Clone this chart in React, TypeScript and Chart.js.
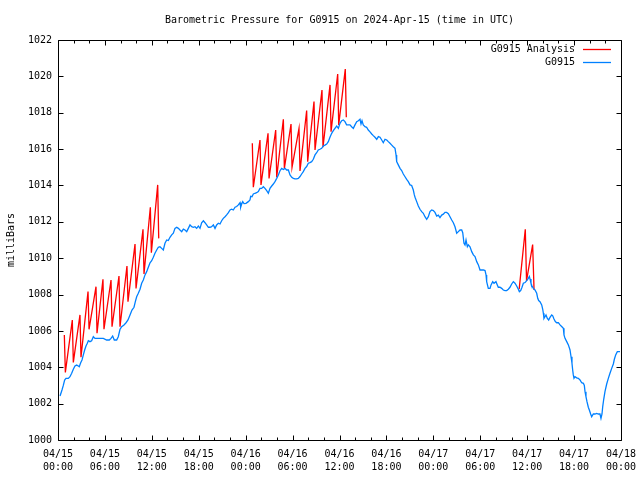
import React, { useEffect, useRef } from 'react';
import { Chart, registerables } from 'chart.js';

Chart.register(...registerables);

const TITLE = 'Barometric Pressure for G0915 on 2024-Apr-15 (time in UTC)';
const Y_LABEL = 'milliBars';
const SERIES_ANALYSIS = 'G0915 Analysis';
const SERIES_STATION = 'G0915';

// x axis: hours since 2024-04-15 00:00 UTC
const X_MIN = 0;
const X_MAX = 72;
const X_MAJOR = 6;
const X_MINOR = 2;
const xDateLabels = ['04/15', '04/15', '04/15', '04/15', '04/16', '04/16', '04/16', '04/16', '04/17', '04/17', '04/17', '04/17', '04/18'];
const xTimeLabels = ['00:00', '06:00', '12:00', '18:00', '00:00', '06:00', '12:00', '18:00', '00:00', '06:00', '12:00', '18:00', '00:00'];

const Y_MIN = 1000;
const Y_MAX = 1022;
const Y_STEP = 2;

// "G0915 Analysis" (null separates the three runs)
const analysisHours = [
  0.81, 0.94, 1.83, 1.96, 2.81, 2.94, 3.84, 3.97, 4.86, 4.99, 5.75, 5.88, 6.78, 6.91,
  7.80, 7.93, 8.82, 8.95, 9.85, 9.98, 10.87, 11.00, 11.81, 11.94, 12.75, 12.88,
  18.0,
  24.85, 24.98, 25.83, 25.96, 26.86, 26.99, 27.84, 27.97, 28.82, 28.95, 29.80, 29.93,
  30.82, 30.95, 31.80, 31.93, 32.74, 32.87, 33.76, 33.89, 34.79, 34.92, 35.77, 35.90,
  36.74, 36.87,
  48.0,
  58.98, 59.76, 59.92, 60.70, 60.88,
];
const analysisPressure = [
  1005.78, 1003.72, 1006.60, 1004.27, 1006.88, 1004.55, 1008.16, 1006.09, 1008.43, 1005.87,
  1008.84, 1006.09, 1008.80, 1006.23, 1009.02, 1006.23, 1009.57, 1007.61, 1010.78, 1008.34,
  1011.59, 1009.13, 1012.80, 1010.30, 1014.03, 1011.09,
  null,
  1016.32, 1013.90, 1016.50, 1014.03, 1016.87, 1014.39, 1017.05, 1014.45, 1017.64, 1014.94,
  1017.38, 1015.00, 1017.14, 1014.80, 1018.12, 1015.31, 1018.61, 1015.95, 1019.25, 1016.10,
  1019.53, 1016.96, 1020.13, 1017.33, 1020.40, 1017.75,
  null,
  1008.30, 1011.59, 1008.75, 1010.75, 1008.25,
];

// "G0915" station pressure
const stationHours = [
  0.26, 0.38, 0.51, 0.68, 0.85, 1.02, 1.32, 1.53, 1.75, 1.96, 2.17, 2.39, 2.60, 2.72, 2.90,
  3.07, 3.24, 3.41, 3.58, 3.75, 3.88, 4.09, 4.30, 4.52, 4.73, 5.37, 5.80, 6.22, 6.56, 6.78,
  6.99, 7.20, 7.50, 7.71, 7.93, 8.14, 8.44, 8.70, 8.95, 9.21, 9.46, 9.72, 9.89, 10.06, 10.27,
  10.49, 10.70, 10.91, 11.13, 11.34, 11.55, 11.77, 11.98, 12.19, 12.40, 12.62, 12.83,
  13.04, 13.26, 13.47, 13.68, 13.90, 14.11, 14.32, 14.54, 14.75, 14.96, 15.18, 15.39, 15.60,
  15.82, 16.03, 16.24, 16.46, 16.67, 16.88, 17.10, 17.31, 17.52, 17.73, 17.95, 18.16, 18.37,
  18.59, 18.80, 19.01, 19.23, 19.44, 19.65, 19.87, 20.08, 20.29, 20.51, 20.72, 20.93, 21.14,
  21.36, 21.57, 21.79, 22.00, 22.21, 22.42, 22.64, 22.85, 23.06, 23.28, 23.36, 23.49, 23.62,
  23.79, 24.04, 24.34, 24.55,
  24.64, 24.81, 24.98, 25.19, 25.40, 25.62, 25.83, 26.04, 26.26, 26.47, 26.69, 26.90, 27.11,
  27.33, 27.54, 27.75, 27.97, 28.18, 28.39, 28.61, 28.82, 29.03, 29.24, 29.46, 29.67, 29.89,
  30.10, 30.31, 30.52, 30.73, 30.95, 31.16, 31.37, 31.59, 31.80, 32.01, 32.22, 32.44, 32.65,
  32.87, 33.08, 33.29, 33.50, 33.72, 33.93, 34.14, 34.36, 34.57, 34.78, 35.00, 35.21, 35.42,
  35.64, 35.85, 36.06, 36.28, 36.49, 36.70, 36.91, 37.12, 37.34, 37.55, 37.77, 37.98, 38.20,
  38.41, 38.62, 38.75, 38.88, 39.04, 39.26, 39.47, 39.68,
  39.90, 40.12, 40.32, 40.54, 40.76, 40.97, 41.18, 41.40, 41.60, 41.82, 42.04, 42.24, 42.46,
  42.68, 42.88, 43.10, 43.23, 43.31, 43.52, 43.74, 43.95, 44.16, 44.38, 44.59, 44.80, 45.02,
  45.23, 45.44, 45.57, 45.66, 45.87, 46.08, 46.29, 46.51, 46.72, 46.93, 47.15, 47.36, 47.57,
  47.79, 48.00, 48.21, 48.43, 48.64, 48.85, 49.07, 49.28, 49.49, 49.70, 49.92, 50.13, 50.35,
  50.56, 50.77, 50.99, 51.20, 51.41, 51.63, 51.76, 51.92, 52.05, 52.18, 52.35, 52.48, 52.69,
  52.91, 53.12, 53.33, 53.55, 53.76, 53.97, 54.18, 54.40, 54.61, 54.74, 54.82, 55.03, 55.25,
  55.38, 55.59, 55.76, 56.01, 56.18, 56.31, 56.52, 56.74, 56.95, 57.17, 57.38, 57.59, 57.80,
  58.02, 58.23, 58.44, 58.66, 58.87, 59.00, 59.17, 59.34, 59.51, 59.73, 59.94, 60.15, 60.28,
  60.37, 60.49, 60.62, 60.79, 61.00, 61.22, 61.35, 61.47, 61.64, 61.86, 61.99, 62.07, 62.15,
  62.28, 62.41, 62.58, 62.75, 62.92, 63.14, 63.27, 63.43, 63.60, 63.78, 63.99, 64.20, 64.41,
  64.63, 64.71, 64.84, 65.06, 65.27, 65.48, 65.61, 65.73, 65.82, 65.90, 65.99, 66.12, 66.33,
  66.54, 66.76, 66.97, 67.19, 67.31, 67.40, 67.52, 67.65, 67.82, 67.95, 68.12, 68.25, 68.46,
  68.67, 68.89, 69.10, 69.31, 69.44, 69.57, 69.66, 69.79, 69.95, 70.17, 70.38, 70.59, 70.81,
  71.02, 71.15, 71.32, 71.53, 71.87,
];
const stationPressure = [
  1002.42, 1002.42, 1002.75, 1003.00, 1003.30, 1003.39, 1003.39, 1003.48, 1003.67, 1003.89, 1004.07, 1004.12, 1004.07, 1004.03, 1004.25,
  1004.40, 1004.68, 1004.95, 1005.17, 1005.32, 1005.46, 1005.41, 1005.46, 1005.68, 1005.59, 1005.59, 1005.59, 1005.50, 1005.50, 1005.59,
  1005.72, 1005.50, 1005.50, 1005.68, 1006.09, 1006.23, 1006.33, 1006.45, 1006.60, 1006.88, 1007.15, 1007.30, 1007.61, 1007.88, 1008.07,
  1008.29, 1008.62, 1008.80, 1009.08, 1009.26, 1009.50, 1009.75, 1009.86, 1010.05, 1010.27, 1010.45, 1010.60,
  1010.63, 1010.54, 1010.45, 1010.82, 1011.00, 1010.97, 1011.15, 1011.28, 1011.37, 1011.64, 1011.70, 1011.64, 1011.55,
  1011.46, 1011.60, 1011.55, 1011.46, 1011.64, 1011.83, 1011.73, 1011.70, 1011.73, 1011.64, 1011.77, 1011.64, 1011.95,
  1012.06, 1011.95, 1011.83, 1011.70, 1011.70, 1011.73, 1011.83, 1011.64, 1011.83, 1011.92, 1011.88, 1012.06, 1012.19,
  1012.28, 1012.38, 1012.51, 1012.65, 1012.69, 1012.65, 1012.80, 1012.84, 1012.93, 1013.05, 1012.80, 1012.98, 1013.11,
  1013.00, 1013.02, 1013.11, 1013.20,
  1013.40, 1013.38, 1013.53, 1013.57, 1013.60, 1013.66, 1013.84, 1013.84, 1013.93, 1013.84, 1013.71, 1013.57, 1013.84,
  1013.97, 1014.08, 1014.21, 1014.39, 1014.58, 1014.81, 1014.94, 1014.88, 1014.94, 1014.85, 1014.85, 1014.58, 1014.45,
  1014.39, 1014.36, 1014.36, 1014.39, 1014.49, 1014.63, 1014.76, 1014.94, 1015.04, 1015.22, 1015.26, 1015.31, 1015.44,
  1015.68, 1015.80, 1015.95, 1015.99, 1016.04, 1016.17, 1016.22, 1016.28, 1016.41, 1016.65, 1016.87, 1017.01, 1017.14,
  1017.27, 1017.14, 1017.42, 1017.56, 1017.60, 1017.51, 1017.33, 1017.33, 1017.33, 1017.23, 1017.14, 1017.33, 1017.51,
  1017.56, 1017.64, 1017.38, 1017.56, 1017.33, 1017.23, 1017.20, 1017.05,
  1016.95, 1016.83, 1016.74, 1016.65, 1016.54, 1016.69, 1016.65, 1016.50, 1016.35, 1016.54, 1016.50, 1016.41, 1016.32,
  1016.22, 1016.13, 1016.04, 1015.68, 1015.31, 1015.13, 1014.94, 1014.82, 1014.63, 1014.48, 1014.34, 1014.21, 1014.03,
  1014.00, 1013.75, 1013.48, 1013.35, 1013.11, 1012.87, 1012.69, 1012.56, 1012.47, 1012.28, 1012.14, 1012.28, 1012.56,
  1012.65, 1012.62, 1012.52, 1012.32, 1012.37, 1012.23, 1012.37, 1012.42, 1012.52, 1012.52, 1012.45, 1012.28, 1012.10,
  1011.95, 1011.73, 1011.37, 1011.46, 1011.55, 1011.55, 1011.40, 1010.82, 1010.73, 1011.00, 1010.63, 1010.73, 1010.63,
  1010.36, 1010.18, 1010.09, 1009.81, 1009.63, 1009.35, 1009.35, 1009.35, 1009.32, 1009.08, 1008.71, 1008.34, 1008.34,
  1008.53, 1008.71, 1008.62, 1008.71, 1008.53, 1008.40, 1008.40, 1008.34, 1008.25, 1008.22, 1008.22, 1008.29, 1008.40,
  1008.58, 1008.71, 1008.62, 1008.47, 1008.29, 1008.16, 1008.22, 1008.40, 1008.62, 1008.66, 1008.77, 1008.89, 1008.99,
  1008.85, 1008.62, 1008.47, 1008.34, 1008.25, 1008.07, 1007.79, 1007.67, 1007.61, 1007.43, 1007.19, 1006.97, 1006.69,
  1006.78, 1006.88, 1006.69, 1006.60, 1006.74, 1006.88, 1006.83, 1006.65, 1006.51, 1006.45, 1006.45, 1006.33, 1006.24,
  1006.14, 1005.78, 1005.59, 1005.41, 1005.23, 1004.95, 1004.58, 1004.22, 1003.85, 1003.58, 1003.39, 1003.48, 1003.42,
  1003.39, 1003.30, 1003.15, 1003.12, 1003.00, 1002.66, 1002.38, 1002.11, 1001.80, 1001.65, 1001.43, 1001.28, 1001.43,
  1001.43, 1001.46, 1001.43, 1001.43, 1001.19, 1001.43, 1001.83, 1002.24, 1002.66, 1003.08, 1003.39, 1003.67, 1003.94,
  1004.18, 1004.44, 1004.68, 1004.86, 1004.86,
];

const FONT_FAMILY = '"DejaVu Sans Mono", "Liberation Mono", monospace';
const ANALYSIS_COLOR = '#ff0000';
const STATION_COLOR = '#0080ff';

const gnuplotDecor = {
  id: 'gnuplotDecor',
  afterDatasetsDraw(chart: any) {
    const { ctx, chartArea: a, scales } = chart;
    const xs = scales.x;
    const ys = scales.y;
    const L = Math.round(a.left) + 0.5;
    const R = Math.round(a.right) + 0.5;
    const T = Math.round(a.top) + 0.5;
    const B = Math.round(a.bottom) + 0.5;
    ctx.save();
    ctx.strokeStyle = '#000';
    ctx.lineWidth = 1;
    ctx.beginPath();
    ctx.rect(L, T, R - L, B - T);
    for (let h = X_MIN; h <= X_MAX; h += X_MINOR) {
      const px = Math.round(xs.getPixelForValue(h)) + 0.5;
      const len = h % X_MAJOR === 0 ? 5 : 3;
      ctx.moveTo(px, B);
      ctx.lineTo(px, B - len);
      ctx.moveTo(px, T);
      ctx.lineTo(px, T + len);
    }
    for (let v = Y_MIN; v <= Y_MAX; v += Y_STEP) {
      const py = Math.round(ys.getPixelForValue(v)) + 0.5;
      ctx.moveTo(L, py);
      ctx.lineTo(L + 5, py);
      ctx.moveTo(R, py);
      ctx.lineTo(R - 5, py);
    }
    ctx.stroke();

    ctx.fillStyle = '#000';
    ctx.font = `10px ${FONT_FAMILY}`;
    ctx.textBaseline = 'middle';
    ctx.textAlign = 'center';
    ctx.fillText(TITLE, (a.left + a.right) / 2, 20);

    ctx.save();
    ctx.translate(11, (a.top + a.bottom) / 2);
    ctx.rotate(-Math.PI / 2);
    ctx.fillText(Y_LABEL, 0, 0);
    ctx.restore();

    // key
    chart.data.datasets.forEach((ds: any, i: number) => {
      const rowY = Math.round(a.top) + 9 + i * 13;
      ctx.textAlign = 'right';
      ctx.fillStyle = '#000';
      ctx.fillText(ds.label, 575, rowY);
      ctx.strokeStyle = ds.borderColor;
      ctx.lineWidth = 1.3;
      ctx.beginPath();
      ctx.moveTo(583, rowY + 0.5);
      ctx.lineTo(611, rowY + 0.5);
      ctx.stroke();
    });
    ctx.restore();
  },
};

export default function App() {
  const canvasRef = useRef<HTMLCanvasElement | null>(null);

  useEffect(() => {
    if (!canvasRef.current) return;
    Chart.defaults.font.family = FONT_FAMILY;
    Chart.defaults.font.size = 10;
    Chart.defaults.color = '#000';

    const analysisData = analysisHours.map((h, i) => ({ x: h, y: analysisPressure[i] }));
    const stationData = stationHours.map((h, i) => ({ x: h, y: stationPressure[i] }));

    const chart = new Chart(canvasRef.current, {
      type: 'line',
      data: {
        datasets: [
          {
            label: SERIES_ANALYSIS,
            data: analysisData as any,
            borderColor: ANALYSIS_COLOR,
            borderWidth: 1.3,
            pointRadius: 0,
            tension: 0,
            spanGaps: false,
            order: 2,
          },
          {
            label: SERIES_STATION,
            data: stationData as any,
            borderColor: STATION_COLOR,
            borderWidth: 1.3,
            pointRadius: 0,
            tension: 0,
            order: 1,
          },
        ],
      },
      options: {
        animation: false,
        responsive: false,
        devicePixelRatio: 1,
        events: [],
        layout: { padding: { left: 0, right: 19, top: 40, bottom: 0 } },
        plugins: {
          legend: { display: false },
          title: { display: false },
          tooltip: { enabled: false },
        },
        scales: {
          x: {
            type: 'linear',
            min: X_MIN,
            max: X_MAX,
            grid: { display: false, drawTicks: false },
            border: { display: false },
            afterFit: (s: any) => {
              s.height = 40;
              s.paddingLeft = 0;
              s.paddingRight = 0;
            },
            ticks: {
              stepSize: X_MAJOR,
              autoSkip: false,
              maxRotation: 0,
              minRotation: 0,
              padding: 8,
              color: '#000',
              font: { family: FONT_FAMILY, size: 10, lineHeight: 1.3 },
              callback: (_v: any, i: number) => [xDateLabels[i], xTimeLabels[i]],
            },
          },
          y: {
            type: 'linear',
            min: Y_MIN,
            max: Y_MAX,
            grid: { display: false, drawTicks: false },
            border: { display: false },
            afterFit: (s: any) => {
              s.width = 58;
              s.paddingTop = 0;
              s.paddingBottom = 0;
            },
            ticks: {
              stepSize: Y_STEP,
              padding: 6,
              color: '#000',
              font: { family: FONT_FAMILY, size: 10 },
              callback: (v: any) => String(v),
            },
          },
        },
      },
      plugins: [gnuplotDecor],
    });
    return () => chart.destroy();
  }, []);

  return (
    <div style={{ position: 'fixed', left: 0, top: 0, width: 640, height: 480, background: '#fff' }}>
      <canvas ref={canvasRef} width={640} height={480} style={{ display: 'block' }} />
    </div>
  );
}
